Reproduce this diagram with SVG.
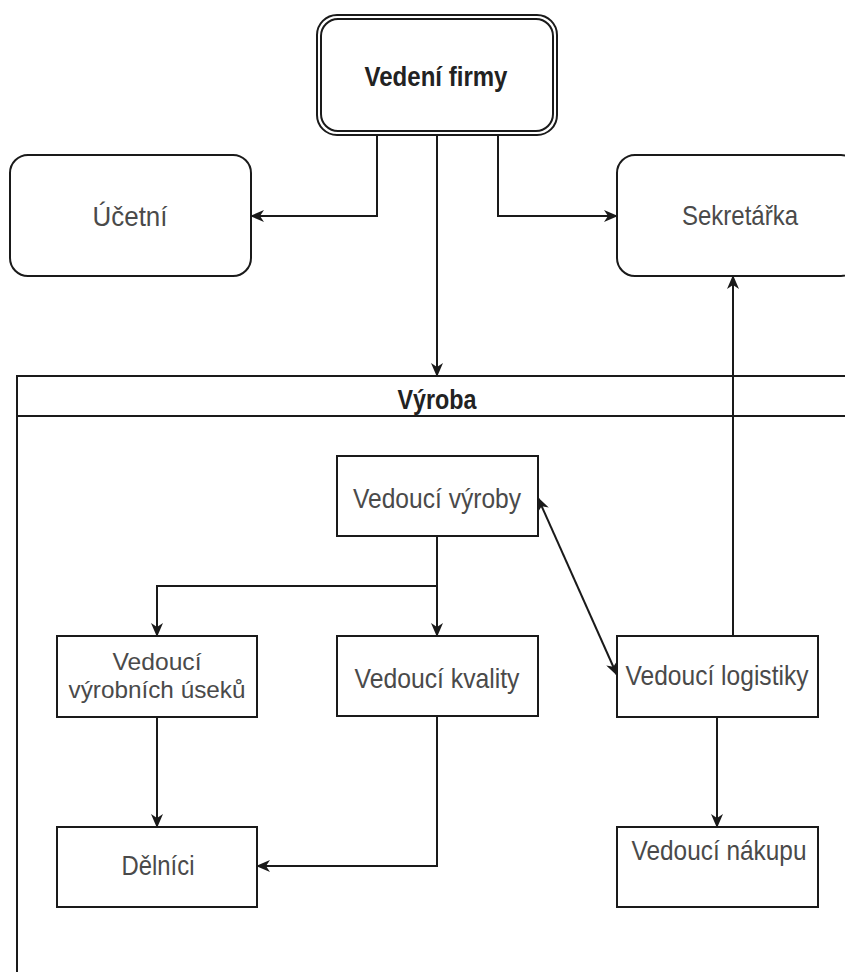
<svg xmlns="http://www.w3.org/2000/svg" width="845" height="972" viewBox="0 0 845 972">
  <style>
    .box { fill: #ffffff; stroke: #1a1a1a; stroke-width: 2; }
    .lane { fill: #ffffff; stroke: #1a1a1a; stroke-width: 2; }
    .edge { fill: none; stroke: #1a1a1a; stroke-width: 2; }
    .lbl { font-family: "Liberation Sans", Arial, sans-serif; font-size: 28px; fill: #4a4a4a; text-anchor: middle; }
    .two { font-size: 24px; }
    .bold { font-weight: bold; fill: #222222; }
  </style>
  <defs>
    <marker id="arrow" viewBox="0 0 14 12" refX="13" refY="6" markerWidth="14" markerHeight="12" markerUnits="userSpaceOnUse" orient="auto-start-reverse">
      <path d="M0,0 L14,6 L0,12 L4,6 Z" fill="#1a1a1a"/>
    </marker>
  </defs>

  <rect width="845" height="972" fill="#ffffff"/>

  <!-- Production lane -->
  <g id="vyroba">
    <rect class="lane" x="17" y="376" width="840" height="610"/>
    <line class="edge" x1="17" y1="416" x2="857" y2="416"/>
    <text class="lbl bold" x="437" y="409" textLength="79" lengthAdjust="spacingAndGlyphs">Výroba</text>
  </g>

  <!-- Management -->
  <g id="vedeni-firmy">
    <rect class="box" x="317" y="15" width="240" height="120" rx="20" ry="20"/>
    <rect class="box" x="321" y="19" width="232" height="112" rx="17" ry="17"/>
    <text class="lbl bold" x="436" y="86" textLength="143" lengthAdjust="spacingAndGlyphs">Vedení firmy</text>
  </g>

  <g id="ucetni">
    <rect class="box" x="10" y="155" width="241" height="121" rx="18" ry="18"/>
    <text class="lbl" x="130" y="226" textLength="75" lengthAdjust="spacingAndGlyphs">Účetní</text>
  </g>

  <g id="sekretarka">
    <rect class="box" x="617" y="155" width="242" height="121" rx="18" ry="18"/>
    <text class="lbl" x="740" y="225" textLength="116" lengthAdjust="spacingAndGlyphs">Sekretářka</text>
  </g>

  <g id="vedouci-vyroby">
    <rect class="box" x="337" y="456" width="201" height="80"/>
    <text class="lbl" x="437" y="508" textLength="168" lengthAdjust="spacingAndGlyphs">Vedoucí výroby</text>
  </g>

  <g id="vedouci-useku">
    <rect class="box" x="57" y="636" width="200" height="81"/>
    <text class="lbl two" x="157" y="670" textLength="89" lengthAdjust="spacingAndGlyphs">Vedoucí</text>
    <text class="lbl two" x="157" y="698" textLength="177" lengthAdjust="spacingAndGlyphs">výrobních úseků</text>
  </g>

  <g id="vedouci-kvality">
    <rect class="box" x="337" y="636" width="201" height="80"/>
    <text class="lbl" x="437" y="688" textLength="165" lengthAdjust="spacingAndGlyphs">Vedoucí kvality</text>
  </g>

  <g id="vedouci-logistiky">
    <rect class="box" x="617" y="636" width="201" height="81"/>
    <text class="lbl" x="717" y="685" textLength="183" lengthAdjust="spacingAndGlyphs">Vedoucí logistiky</text>
  </g>

  <g id="delnici">
    <rect class="box" x="57" y="827" width="200" height="80"/>
    <text class="lbl" x="158" y="875" textLength="73" lengthAdjust="spacingAndGlyphs">Dělníci</text>
  </g>

  <g id="vedouci-nakupu">
    <rect class="box" x="617" y="827" width="201" height="80"/>
    <text class="lbl" x="719" y="860" textLength="175" lengthAdjust="spacingAndGlyphs">Vedoucí nákupu</text>
  </g>

  <!-- Connectors -->
  <g id="connectors">
    <path class="edge" d="M377,135 V216 H251" marker-end="url(#arrow)"/>
    <path class="edge" d="M498,135 V216 H617" marker-end="url(#arrow)"/>
    <path class="edge" d="M437,135 V376" marker-end="url(#arrow)"/>
    <path class="edge" d="M733,636 V276" marker-end="url(#arrow)"/>
    <path class="edge" d="M437,536 V636" marker-end="url(#arrow)"/>
    <path class="edge" d="M437,586 H157 V636" marker-end="url(#arrow)"/>
    <path class="edge" d="M157,717 V827" marker-end="url(#arrow)"/>
    <path class="edge" d="M437,716 V866 H257" marker-end="url(#arrow)"/>
    <path class="edge" d="M717,717 V827" marker-end="url(#arrow)"/>
    <path class="edge" d="M538,498 L617,675" marker-start="url(#arrow)" marker-end="url(#arrow)"/>
  </g>
</svg>
